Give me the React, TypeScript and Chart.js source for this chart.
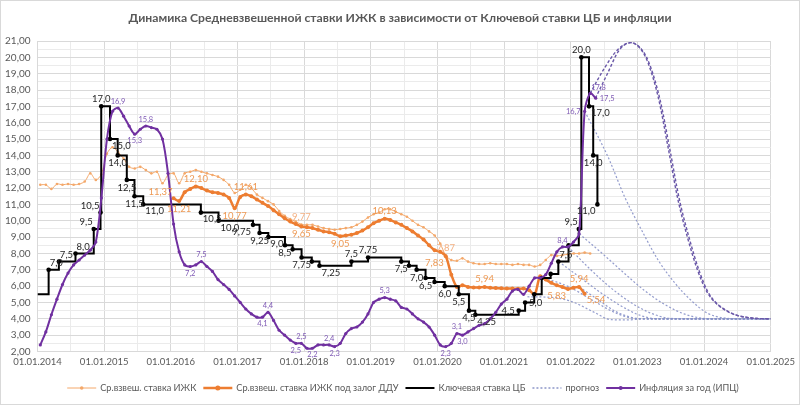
import React, { useEffect, useRef } from 'react';
import { Chart, registerables } from 'chart.js';

Chart.register(...registerables);

// ---------------- DATA ----------------
const START_YEAR = 2014;

// Ср.взвеш. ставка ИЖК, monthly from Jan 2014
const ijkAll = [
  12.2, 12.2, 11.95, 12.25, 12.2, 12.25, 12.2, 12.25, 12.4, 12.9, 12.5, 12.85,
  14.1, 14.5, 14.2, 13.8, 13.3, 13.2, 13.3, 13.1, 12.9, 13.0, 12.3, 12.8,
  12.9, 12.3, 12.9, 13.0, 13.1, 13.0, 12.9, 12.8, 12.7, 12.5, 12.2, 11.7,
  11.9, 12.2, 12.0, 11.6, 11.4, 11.2, 11.0, 10.6, 10.3, 10.1, 9.95, 9.77,
  9.75, 9.75, 9.65, 9.55, 9.5, 9.45, 9.5, 9.55, 9.6, 9.75, 9.95, 10.2,
  10.4, 10.5, 10.7, 10.7, 10.55, 10.4, 10.25, 10.0, 9.75, 9.6, 9.35, 9.1,
  8.6, 7.87, 7.6, 7.55, 7.7, 7.5, 7.4, 7.35, 7.35, 7.4, 7.35, 7.35,
  7.35, 7.3, 7.35, 7.3, 7.3, 7.2, 7.3, 7.6, 7.9, 7.85, 7.9, 7.95,
  8.0, 8.0, 8.05, 8.0,
];

// Ср.взвеш. ставка ИЖК под залог ДДУ, monthly from Jan 2016
const DDU_START_MONTH = 24;
const ijkDdu = [
  11.37, 11.21, 11.75, 11.95, 12.1, 12.0, 11.85, 11.75, 11.7, 11.6, 11.4, 10.77,
  11.45, 11.61, 11.5, 11.3, 11.1, 10.9, 10.65, 10.4, 10.15, 9.95, 9.8, 9.65,
  9.6, 9.55, 9.45, 9.35, 9.3, 9.2, 9.05, 9.1, 9.15, 9.25, 9.4, 9.6,
  9.85, 10.0, 10.13, 10.05, 9.9, 9.75, 9.55, 9.35, 9.1, 8.85, 8.5, 8.2,
  8.1, 7.83, 6.7, 5.95, 6.05, 5.95, 5.92, 5.92, 5.94, 5.9, 5.88, 5.87,
  5.85, 5.85, 5.84, 5.85, 5.75, 5.5, 6.6, 6.4, 6.2, 6.05, 5.95, 5.83,
  5.9, 5.94, 5.54,
];

// Инфляция за год (ИПЦ), monthly from Jan 2014
const cpi = [
  2.4, 3.2, 4.25, 5.2, 6.1, 6.8, 7.3, 7.6, 7.9, 8.2, 8.7, 11.4,
  15.0, 16.7, 16.9, 16.4, 15.8, 15.3, 15.6, 15.8, 15.7, 15.6, 15.0, 12.9,
  9.8, 8.1, 7.3, 7.2, 7.3, 7.5, 7.2, 6.9, 6.4, 6.1, 5.8, 5.4,
  5.0, 4.6, 4.3, 4.1, 4.1, 4.4, 3.9, 3.3, 3.0, 2.7, 2.5, 2.5,
  2.2, 2.2, 2.4, 2.4, 2.4, 2.3, 2.5, 3.1, 3.4, 3.5, 3.8, 4.3,
  5.0, 5.2, 5.3, 5.2, 5.1, 4.7, 4.6, 4.3, 4.0, 3.8, 3.5, 3.0,
  2.4, 2.3, 2.5, 3.1, 3.0, 3.2, 3.4, 3.6, 3.7, 4.0, 4.4, 4.9,
  5.2, 5.7, 5.8, 5.5, 6.0, 6.5, 6.5, 6.7, 7.4, 8.1, 8.4, 8.4,
  8.7, 9.2, 16.7, 17.8, 17.5,
];

// Ключевая ставка ЦБ
const keyRateDates = [
  '2014-01-01', '2014-03-03', '2014-04-28', '2014-07-28', '2014-11-05', '2014-12-12', '2014-12-16',
  '2015-02-02', '2015-03-16', '2015-05-05', '2015-06-16', '2015-08-03', '2016-06-14', '2016-09-19',
  '2017-03-27', '2017-05-02', '2017-06-19', '2017-09-18', '2017-10-30', '2017-12-18', '2018-02-12',
  '2018-03-26', '2018-09-17', '2018-12-17', '2019-06-17', '2019-07-29', '2019-09-09', '2019-10-28',
  '2019-12-16', '2020-02-10', '2020-04-27', '2020-06-22', '2020-07-27', '2021-03-22', '2021-04-26',
  '2021-06-15', '2021-07-26', '2021-09-13', '2021-10-25', '2021-12-20', '2022-02-14', '2022-02-28',
  '2022-04-11', '2022-05-04', '2022-05-27',
];
const keyRateValues = [
  5.5, 7.0, 7.5, 8.0, 9.5, 10.5, 17.0,
  15.0, 14.0, 12.5, 11.5, 11.0, 10.5, 10.0,
  9.75, 9.25, 9.0, 8.5, 8.25, 7.75, 7.5,
  7.25, 7.5, 7.75, 7.5, 7.25, 7.0, 6.5,
  6.25, 6.0, 5.5, 4.5, 4.25, 4.5, 5.0,
  5.5, 6.5, 6.75, 7.5, 8.5, 9.5, 20.0,
  17.0, 14.0, 11.0,
];

// прогноз: [year, value]
const forecastCpiA = [
  [2022.29, 17.8], [2022.5, 19.3], [2022.7, 20.45], [2022.9, 20.9], [2023.06, 20.45], [2023.16, 19.65],
  [2023.31, 17.6], [2023.46, 14.5], [2023.6, 11.45], [2023.75, 9.0], [2023.9, 7.0], [2024.05, 5.6],
  [2024.31, 4.55], [2024.7, 4.05], [2025.0, 4.0],
];
const forecastCpiB = [
  [2022.37, 17.5], [2022.55, 19.0], [2022.72, 20.4], [2022.9, 20.9], [2023.08, 20.4], [2023.19, 19.5],
  [2023.34, 17.4], [2023.49, 14.3], [2023.63, 11.3], [2023.78, 8.9], [2023.93, 6.9], [2024.08, 5.5],
  [2024.34, 4.5], [2024.72, 4.05], [2025.0, 4.0],
];
const forecastG1 = [
  [2022.21, 16.7], [2022.56, 13.9], [2022.81, 11.45], [2023.06, 9.45], [2023.31, 7.6], [2023.56, 6.2],
  [2023.8, 5.15], [2024.05, 4.35], [2024.31, 4.05], [2024.6, 4.0], [2025.0, 4.0],
];
const forecastG2 = [
  [2022.13, 9.2], [2022.5, 7.9], [2022.8, 6.8], [2023.1, 5.75], [2023.4, 4.9], [2023.7, 4.3],
  [2023.95, 4.05], [2024.2, 4.0], [2025.0, 4.0],
];
const forecastG3 = [
  [2021.96, 8.4], [2022.3, 7.0], [2022.6, 5.9], [2022.9, 5.0], [2023.2, 4.35], [2023.45, 4.05],
  [2023.7, 4.0], [2025.0, 4.0],
];
const forecastG4 = [
  [2021.82, 7.5], [2022.15, 6.5], [2022.45, 5.6], [2022.75, 4.8], [2023.05, 4.2], [2023.3, 4.0], [2025.0, 4.0],
];
const forecastG5 = [
  [2022.13, 5.94], [2022.4, 5.2], [2022.65, 4.5], [2022.9, 4.1], [2023.1, 4.0], [2025.0, 4.0],
];
const forecastG6 = [
  [2021.35, 5.35], [2021.75, 5.3], [2022.05, 5.0], [2022.35, 4.4], [2022.6, 3.95], [2022.85, 3.93],
  [2023.1, 4.0], [2025.0, 4.0],
];
const forecastG7 = [
  [2021.6, 6.5], [2021.95, 6.0], [2022.3, 5.2], [2022.6, 4.5], [2022.85, 4.1], [2023.05, 4.0], [2025.0, 4.0],
];

// data labels (month indices) and their placement
const cpiLabelIdx = [14, 17, 19, 27, 29, 40, 41, 46, 47, 49, 52, 53, 62, 73, 75, 76, 94, 98, 99, 100];
const cpiLabelPos = ['a', 'b', 'a', 'b', 'a', 'b', 'a', 'b', 'a', 'b', 'a', 'b', 'a', 'b', 'a', 'b', 'a', 'l', 'ra', 'r'];
const dduLabelIdx = [0, 1, 4, 11, 13, 23, 30, 38, 49, 56, 71, 73, 74];
const dduLabelPos = ['la', 'b', 'a', 'b', 'a', 'b', 'b', 'a', 'lb', 'a', 'lb', 'a', 'rb'];
const ijkLabelIdx = [47, 73];
const ijkLabelPos = ['a', 'a'];
const keyLabelPos = [
  '', 'ra', 'ra', 'ra', 'la', 'la', 'a',
  'rb', 'b', 'b', 'b', 'rb', 'rb', 'rb',
  'lb', 'b', 'rb', 'b', '', 'b', '',
  'rb', 'a', 'a', 'b', '', 'b', 'b',
  '', 'b', 'b', 'b', 'rb', 'l', 'r',
  '', '', '', 'ra', '', 'la', 'a',
  'rb', 'b', 'lb',
];

// ---------------- HELPERS ----------------
const monthX = (m: number) => START_YEAR + (m + 0.5) / 12;
const dateToYear = (s: string) => {
  const [y, mo, d] = s.split('-').map(Number);
  const t = Date.UTC(y, mo - 1, d);
  const a = Date.UTC(y, 0, 1);
  const b = Date.UTC(y + 1, 0, 1);
  return y + (t - a) / (b - a);
};
const isInt = (v: number) => Math.abs(v - Math.round(v)) < 1e-6;
const comma = (v: number, d: number) => v.toFixed(d).replace('.', ',');
const fmtKey = (v: number) => (isInt(v * 10) ? comma(v, 1) : comma(v, 2));

const FONT = 'Lato, "Open Sans", sans-serif';

const OFF: Record<string, [CanvasTextAlign, CanvasTextBaseline, number, number]> = {
  a: ['center', 'bottom', 0, -3],
  b: ['center', 'top', 0, 3],
  ra: ['left', 'bottom', 1, -2],
  rb: ['left', 'top', 2, 2],
  la: ['right', 'bottom', -1, -2],
  lb: ['right', 'top', -2, 2],
  l: ['right', 'middle', -4, 0],
  r: ['left', 'middle', 4, 0],
};

const valueLabelPlugin = {
  id: 'valueLabels',
  afterDatasetsDraw(chart: any) {
    const ctx = chart.ctx;
    chart.data.datasets.forEach((ds: any, di: number) => {
      const vl = ds.valueLabels;
      if (!vl) return;
      const meta = chart.getDatasetMeta(di);
      ctx.save();
      ctx.font = vl.font;
      ctx.fillStyle = vl.color;
      vl.items.forEach(([idx, pos]: [number, string]) => {
        if (!pos) return;
        const el = meta.data[idx];
        if (!el) return;
        const o = OFF[pos];
        ctx.textAlign = o[0];
        ctx.textBaseline = o[1];
        ctx.fillText(vl.format(ds.data[idx].y), el.x + o[2], el.y + o[3]);
      });
      ctx.restore();
    });
  },
};

const legendItems = [
  { text: 'Ср.взвеш. ставка ИЖК', color: '#F4A86A', width: 1, dash: [], dot: 1.8 },
  { text: 'Ср.взвеш. ставка ИЖК под залог ДДУ', color: '#ED7D31', width: 2.5, dash: [], dot: 2.5 },
  { text: 'Ключевая ставка ЦБ', color: '#000000', width: 2, dash: [], dot: 0 },
  { text: 'прогноз', color: '#8C96C8', width: 1.3, dash: [2, 2], dot: 0 },
  { text: 'Инфляция за год (ИПЦ)', color: '#7030A0', width: 2, dash: [], dot: 2 },
];

const decorPlugin = {
  id: 'decor',
  beforeDraw(chart: any) {
    const ctx = chart.ctx;
    ctx.save();
    ctx.fillStyle = '#FFFFFF';
    ctx.fillRect(0, 0, chart.width, chart.height);
    ctx.restore();
  },
  afterDraw(chart: any) {
    const ctx = chart.ctx;
    ctx.save();
    // frame
    ctx.strokeStyle = '#D9D9D9';
    ctx.lineWidth = 1;
    ctx.strokeRect(0.5, 0.5, chart.width - 1, chart.height - 1);
    // title
    ctx.fillStyle = '#595959';
    ctx.font = `bold 12.2px ${FONT}`;
    ctx.textAlign = 'center';
    ctx.textBaseline = 'middle';
    ctx.fillText('Динамика Средневзвешенной ставки ИЖК в зависимости от Ключевой ставки ЦБ и инфляции', 400, 18);
    // legend
    ctx.font = `9.2px ${FONT}`;
    const lineLen = 29, gap = 4, itemGap = 7;
    const widths = legendItems.map((it) => ctx.measureText(it.text).width);
    const total = widths.reduce((s, w) => s + lineLen + gap + w, 0) + itemGap * (legendItems.length - 1);
    let x = 403 - total / 2;
    const y = 388;
    legendItems.forEach((it, i) => {
      ctx.strokeStyle = it.color;
      ctx.lineWidth = it.width;
      ctx.setLineDash(it.dash);
      ctx.beginPath();
      ctx.moveTo(x, y);
      ctx.lineTo(x + lineLen, y);
      ctx.stroke();
      ctx.setLineDash([]);
      if (it.dot) {
        ctx.fillStyle = it.color;
        ctx.beginPath();
        ctx.arc(x + lineLen / 2, y, it.dot, 0, Math.PI * 2);
        ctx.fill();
      }
      ctx.fillStyle = '#595959';
      ctx.textAlign = 'left';
      ctx.textBaseline = 'middle';
      ctx.fillText(it.text, x + lineLen + gap, y);
      x += lineLen + gap + widths[i] + itemGap;
    });
    ctx.restore();
  },
};

const pairData = (arr: number[][]) => arr.map(([x, y]) => ({ x, y }));

export default function App() {
  const ref = useRef<HTMLCanvasElement | null>(null);

  useEffect(() => {
    document.body.style.margin = '0';
    document.body.style.overflow = 'hidden';
    const canvas = ref.current;
    if (!canvas) return;

    const forecastGray = (data: number[][]) => ({
      label: 'прогноз',
      data: pairData(data),
      borderColor: 'rgba(135,145,200,0.9)',
      borderWidth: 1.2,
      borderDash: [2, 2],
      pointRadius: 0,
      cubicInterpolationMode: 'monotone',
    });
    const forecastPurple = (data: number[][]) => ({
      label: 'прогноз',
      data: pairData(data),
      borderColor: '#6A58A8',
      borderWidth: 1.4,
      borderDash: [3, 2],
      pointRadius: 0,
      cubicInterpolationMode: 'monotone',
    });

    const chart = new Chart(canvas, {
      type: 'line',
      data: {
        datasets: [
          {
            label: 'Инфляция за год (ИПЦ)',
            data: cpi.map((v, m) => ({ x: monthX(m), y: v })),
            borderColor: '#7030A0',
            backgroundColor: '#7030A0',
            borderWidth: 2,
            pointRadius: 1.6,
            pointBorderWidth: 0,
            tension: 0.3,
            valueLabels: {
              items: cpiLabelIdx.map((m, i) => [m, cpiLabelPos[i]]),
              color: '#7F5AB5',
              font: `7.5px ${FONT}`,
              format: (v: number) => comma(v, 1),
            },
          } as any,
          {
            label: 'Ключевая ставка ЦБ',
            data: keyRateDates.map((d, i) => ({ x: dateToYear(d), y: keyRateValues[i] })),
            borderColor: '#000000',
            backgroundColor: '#000000',
            borderWidth: 2,
            stepped: 'before',
            pointRadius: (c: any) => (c.dataIndex === 0 ? 0 : 2.3),
            pointBorderWidth: 0,
            valueLabels: {
              items: keyLabelPos.map((p, i) => [i, p]),
              color: '#262626',
              font: `9.5px ${FONT}`,
              format: fmtKey,
            },
          } as any,
          {
            label: 'Ср.взвеш. ставка ИЖК под залог ДДУ',
            data: ijkDdu.map((v, i) => ({ x: monthX(i + DDU_START_MONTH), y: v })),
            borderColor: '#ED7D31',
            backgroundColor: '#ED7D31',
            borderWidth: 2.5,
            pointRadius: 2,
            pointBorderWidth: 0,
            tension: 0.3,
            valueLabels: {
              items: dduLabelIdx.map((m, i) => [m, dduLabelPos[i]]),
              color: '#EE9A55',
              font: `9.5px ${FONT}`,
              format: (v: number) => comma(v, 2),
            },
          } as any,
          {
            label: 'Ср.взвеш. ставка ИЖК',
            data: ijkAll.map((v, m) => ({ x: monthX(m), y: v })),
            borderColor: '#F4A86A',
            backgroundColor: '#F4A86A',
            borderWidth: 1,
            pointRadius: 1.3,
            pointBorderWidth: 0,
            tension: 0.3,
            valueLabels: {
              items: ijkLabelIdx.map((m, i) => [m, ijkLabelPos[i]]),
              color: '#F4B183',
              font: `9.5px ${FONT}`,
              format: (v: number) => comma(v, 2),
            },
          } as any,
          forecastPurple(forecastCpiA),
          forecastPurple(forecastCpiB),
          forecastGray(forecastG1),
          forecastGray(forecastG2),
          forecastGray(forecastG3),
          forecastGray(forecastG4),
          forecastGray(forecastG5),
          forecastGray(forecastG6),
          forecastGray(forecastG7),
        ] as any,
      },
      options: {
        responsive: false,
        animation: false,
        parsing: true,
        layout: { padding: { top: 41, right: 26, bottom: 31.5, left: 0 } },
        plugins: {
          legend: { display: false },
          title: { display: false },
          tooltip: { enabled: false },
        },
        scales: {
          x: {
            type: 'linear',
            min: 2014,
            max: 2025,
            afterFit: (s: any) => {
              s.height = 22;
            },
            ticks: {
              stepSize: 0.5,
              autoSkip: false,
              maxRotation: 0,
              minRotation: 0,
              padding: 5,
              color: '#595959',
              font: { family: FONT, size: 9.5 },
              callback: (v: any) => (isInt(Number(v)) ? '01.01.' + Math.round(Number(v)) : ''),
            },
            grid: {
              color: (c: any) => (c.tick && isInt(c.tick.value) ? '#D9D9D9' : '#EBEBEB'),
              drawTicks: false,
              lineWidth: 1,
            },
            border: { display: false },
          },
          y: {
            type: 'linear',
            min: 2,
            max: 21,
            afterFit: (s: any) => {
              s.width = 37.5;
            },
            ticks: {
              stepSize: 0.5,
              autoSkip: false,
              padding: 7,
              color: '#595959',
              font: { family: FONT, size: 10 },
              callback: (v: any) => (isInt(Number(v)) ? comma(Number(v), 2) : ''),
            },
            grid: {
              color: (c: any) => (c.tick && isInt(c.tick.value) ? '#D9D9D9' : '#EBEBEB'),
              drawTicks: false,
              lineWidth: 1,
            },
            border: { display: false },
          },
        },
      } as any,
      plugins: [decorPlugin, valueLabelPlugin],
    });

    return () => chart.destroy();
  }, []);

  return (
    <div style={{ width: 800, height: 405 }}>
      <canvas ref={ref} width={800} height={405} style={{ display: 'block' }} />
    </div>
  );
}
